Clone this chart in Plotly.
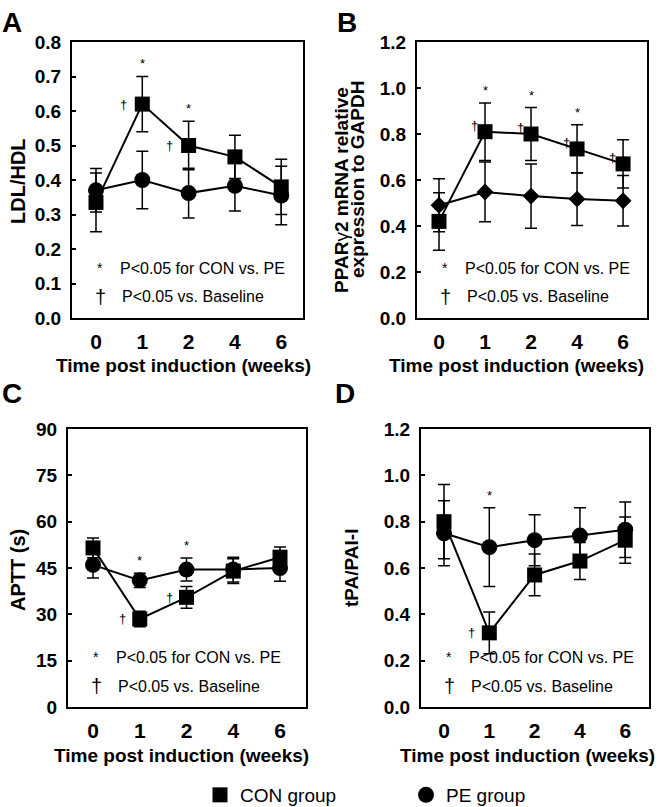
import plotly.graph_objects as go

W, H = 664, 807
FONT = "Liberation Sans, Arial, sans-serif"

weeks = ["0", "1", "2", "4", "6"]

# Panel A: LDL/HDL
ldl_con = [0.335, 0.62, 0.50, 0.467, 0.38]
ldl_con_err = [0.085, 0.08, 0.07, 0.063, 0.08]
ldl_pe = [0.37, 0.40, 0.362, 0.383, 0.355]
ldl_pe_err = [0.063, 0.083, 0.072, 0.073, 0.085]

# Panel B: PPARg2 mRNA
ppar_con = [0.42, 0.81, 0.80, 0.735, 0.67]
ppar_con_err = [0.125, 0.125, 0.115, 0.105, 0.105]
ppar_pe = [0.49, 0.548, 0.53, 0.517, 0.51]
ppar_pe_err = [0.115, 0.13, 0.14, 0.115, 0.11]

# Panel C: APTT (s)
aptt_con = [51.5, 28.5, 35.5, 44.0, 48.5]
aptt_con_err = [3.2, 2.5, 3.5, 4.0, 3.3]
aptt_pe = [46.0, 41.0, 44.5, 44.5, 45.0]
aptt_pe_err = [4.2, 2.3, 3.7, 4.0, 4.3]

# Panel D: tPA/PAI-I
tpa_con = [0.80, 0.32, 0.57, 0.63, 0.72]
tpa_con_err = [0.16, 0.09, 0.09, 0.08, 0.10]
tpa_pe = [0.75, 0.69, 0.72, 0.74, 0.765]
tpa_pe_err = [0.14, 0.17, 0.11, 0.12, 0.12]

# significance marks (week labels)
star_A, dagger_A = ["1", "2"], ["1", "2"]
star_B, dagger_B = ["1", "2", "4"], ["1", "2", "4", "6"]
star_C, dagger_C = ["1", "2"], ["1", "2"]
star_D, dagger_D = ["1"], ["1"]

y_titles = [["<b>LDL/HDL</b>"],
            ["<b>PPAR</b>γ<b>2 mRNA relative</b>", "<b>expression to GAPDH</b>"],
            ["<b>APTT (s)</b>"],
            ["<b>tPA/PAI-I</b>"]]
x_title = "<b>Time post induction (weeks)</b>"
letters = ["A", "B", "C", "D"]

# layout geometry (pixels)
boxes = [(72, 303, 42, 318), (417, 647, 42, 318), (68, 306, 429, 707), (421, 649, 429, 707)]
xranges = [[-0.518, 4.47], [-0.478, 4.52], [-0.535, 4.556], [-0.508, 4.525]]
yranges = [[0, 0.8], [0, 1.2], [0, 90], [0, 1.2]]
ydticks = [0.1, 0.2, 15, 0.2]
yfmt = [".1f", ".1f", "d", ".1f"]
letter_pos = [(12, 22), (347, 22), (12, 393), (345, 394)]
ytitle_pos = [[(18, 181)], [(341, 190), (357, 180)], [(18, 570)], [(351, 568)]]
ytitle_size = [20, 19, 20, 19]
xtitle_pos = [(183, 365), (516, 365), (181, 755), (527, 755)]
dagger_shift = [(-19, 0), (-11, 6), (-17, 0), (-18, 0)]

panels = [
    (ldl_con, ldl_con_err, ldl_pe, ldl_pe_err, "circle", star_A, dagger_A),
    (ppar_con, ppar_con_err, ppar_pe, ppar_pe_err, "diamond", star_B, dagger_B),
    (aptt_con, aptt_con_err, aptt_pe, aptt_pe_err, "circle", star_C, dagger_C),
    (tpa_con, tpa_con_err, tpa_pe, tpa_pe_err, "circle", star_D, dagger_D),
]

xi = list(range(len(weeks)))
fig = go.Figure()
annotations = []
layout = {}

def px_x(p):
    return p / W

def px_y(p):
    return 1 - p / H

for k, (con, con_e, pe, pe_e, pe_sym, stars, daggers) in enumerate(panels):
    n = "" if k == 0 else str(k + 1)
    xa, ya = "x" + n, "y" + n
    x0, x1, y0, y1 = boxes[k]
    pe_size = 13 if pe_sym == "diamond" else 16
    fig.add_trace(go.Scatter(
        x=xi, y=pe, xaxis=xa, yaxis=ya, mode="lines+markers", showlegend=False,
        line=dict(color="black", width=2),
        marker=dict(symbol=pe_sym, size=pe_size, color="black"),
        error_y=dict(type="data", array=pe_e, color="black", thickness=1.5, width=6)))
    fig.add_trace(go.Scatter(
        x=xi, y=con, xaxis=xa, yaxis=ya, mode="lines+markers", showlegend=False,
        line=dict(color="black", width=2),
        marker=dict(symbol="square", size=15, color="black"),
        error_y=dict(type="data", array=con_e, color="black", thickness=1.5, width=6)))

    layout["xaxis" + n] = dict(
        domain=[px_x(x0), px_x(x1)], anchor=ya, range=xranges[k],
        tickmode="array", tickvals=xi, ticktext=[f"<b>{w}</b>" for w in weeks],
        ticks="", showgrid=False, zeroline=False, showline=True, mirror=True,
        linecolor="black", linewidth=2, ticklabelstandoff=4,
        tickfont=dict(family=FONT, size=21, color="black"))
    # overlay axis carrying the in-between inward ticks
    layout["xaxis" + str(k + 5)] = dict(
        domain=[px_x(x0), px_x(x1)], anchor=ya, overlaying=xa, range=xranges[k],
        tickmode="array", tickvals=[i + 0.5 for i in xi[:-1]], showticklabels=False,
        ticks="inside", ticklen=5, tickwidth=1.5, tickcolor="black",
        showgrid=False, zeroline=False, showline=False)
    layout["yaxis" + n] = dict(
        domain=[px_y(y1), px_y(y0)], anchor=xa, range=yranges[k],
        dtick=ydticks[k], tick0=0, tickformat=yfmt[k],
        ticks="inside", ticklen=4, tickwidth=1.5, tickcolor="black",
        showgrid=False, zeroline=False, showline=True, mirror=True,
        linecolor="black", linewidth=2, ticklabelstandoff=5,
        tickfont=dict(family=FONT, size=19, color="black", weight="bold"))

    # panel letter
    lx, ly = letter_pos[k]
    annotations.append(dict(text=f"<b>{letters[k]}</b>", x=px_x(lx), y=px_y(ly), xref="paper", yref="paper",
                            showarrow=False, xanchor="center", yanchor="middle",
                            font=dict(family=FONT, size=28, color="black")))
    # y title (one annotation per line for tight spacing)
    for line, (tx, ty) in zip(y_titles[k], ytitle_pos[k]):
        annotations.append(dict(text=line, x=px_x(tx), y=px_y(ty), xref="paper", yref="paper",
                                showarrow=False, textangle=-90, xanchor="center", yanchor="middle",
                                font=dict(family=FONT, size=ytitle_size[k], color="black")))
    # x title
    tx, ty = xtitle_pos[k]
    annotations.append(dict(text=x_title, x=px_x(tx), y=px_y(ty), xref="paper", yref="paper",
                            showarrow=False, xanchor="center", yanchor="middle",
                            font=dict(family=FONT, size=19, color="black")))
    # in-panel key
    for row, (sym, sym_size, txt, dx) in enumerate([("*", 14, "P<0.05 for CON vs. PE", 0),
                                                    ("†", 20, "P<0.05 vs. Baseline", 2)]):
        yy = y1 - 50 + row * 29
        annotations.append(dict(text=sym, x=px_x(x0 + 28), y=px_y(yy), xref="paper", yref="paper",
                                showarrow=False, xanchor="center", yanchor="middle",
                                font=dict(family=FONT, size=sym_size, color="black")))
        annotations.append(dict(text=txt, x=px_x(x0 + 46 + dx), y=px_y(yy), xref="paper", yref="paper",
                                showarrow=False, xanchor="left", yanchor="middle",
                                font=dict(family=FONT, size=16, color="black")))
    # significance marks
    for w in stars:
        i = weeks.index(w)
        top = max(con[i] + con_e[i], pe[i] + pe_e[i])
        annotations.append(dict(text="*", x=i, y=top, xref=xa, yref=ya, showarrow=False,
                                xanchor="center", yanchor="bottom", yshift=3,
                                font=dict(family=FONT, size=13, color="black")))
    sx, sy = dagger_shift[k]
    for w in daggers:
        i = weeks.index(w)
        annotations.append(dict(text="†", x=i, y=con[i], xref=xa, yref=ya, showarrow=False,
                                xanchor="center", yanchor="middle", xshift=sx, yshift=sy,
                                font=dict(family=FONT, size=13, color="black")))

# legend-only traces
fig.add_trace(go.Scatter(x=[None], y=[None], mode="markers", name="CON group",
                         marker=dict(symbol="square", size=15, color="black"), showlegend=True))
fig.add_trace(go.Scatter(x=[None], y=[None], mode="markers", name="PE group",
                         marker=dict(symbol="circle", size=16, color="black"), showlegend=True))

fig.update_layout(
    width=W, height=H, margin=dict(l=0, r=0, t=0, b=0, autoexpand=False),
    paper_bgcolor="white", plot_bgcolor="white",
    font=dict(family=FONT, color="black"),
    annotations=annotations,
    legend=dict(orientation="h", x=px_x(200), y=px_y(795), xanchor="left", yanchor="middle",
                entrywidth=161, entrywidthmode="pixels", itemwidth=30,
                font=dict(family=FONT, size=19, color="black"), bgcolor="rgba(0,0,0,0)"),
    **layout,
)

fig.write_html("out.html", config={"displayModeBar": False},
               post_script="document.body.style.margin='0';")
